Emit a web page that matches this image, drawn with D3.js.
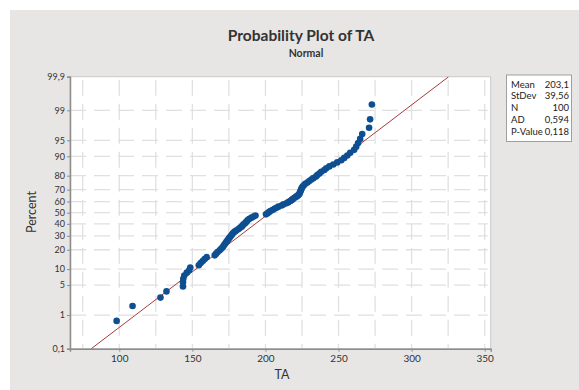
<!DOCTYPE html>
<html>
<head>
<meta charset="utf-8">
<script src="https://cdn.jsdelivr.net/npm/d3@7"></script>
<style>
  body { margin: 0; background: #fff; }
  svg { display: block; font-family: Lato, "Open Sans", sans-serif; }
</style>
</head>
<body>
<svg width="579" height="390"></svg>
<script>
// valeurs TA triées
const taValues = [
  98.2, 109.1, 128.2, 132.3, 143.6, 143.6, 143.8, 144.5, 146.2, 147.9,
  148.6, 154.4, 155.7, 157.1, 158.4, 159.8, 165.3, 166.3, 167.3, 168.7,
  169.7, 170.7, 171.4, 172.1, 172.8, 173.4, 174.1, 174.8, 175.5, 176.2,
  176.9, 177.5, 178.2, 179.2, 180.3, 181.6, 182.6, 183.7, 184.4, 185.0,
  186.1, 186.7, 187.4, 188.1, 189.1, 190.5, 191.9, 193.2, 200.4, 201.4,
  202.4, 203.4, 204.8, 206.2, 207.5, 208.9, 211.0, 212.3, 214.4, 215.7,
  217.1, 218.1, 219.1, 220.2, 221.5, 222.5, 223.2, 223.5, 223.9, 224.2,
  224.6, 224.9, 225.5, 226.3, 227.3, 228.7, 230.0, 231.4, 232.8, 234.6,
  235.5, 236.9, 238.2, 240.3, 241.6, 243.7, 246.4, 249.1, 251.9, 253.9,
  256.0, 258.0, 260.7, 262.1, 263.4, 264.8, 266.2, 270.9, 271.6, 272.8
];
const yTicks = [0.1, 1, 5, 10, 20, 30, 40, 50, 60, 70, 80, 90, 95, 99, 99.9];
const xTicks = [100, 150, 200, 250, 300, 350];
const xGrid = [75, 100, 125, 150, 175, 200, 225, 250, 275, 300, 325, 350];
const statLabels = ["Mean", "StDev", "N", "AD", "P-Value"];
const statValues = ["203,1", "39,56", "100", "0,594", "0,118"];
const fitMean = 203.1;
const fitSd = 39.56;

const svg = d3.select("svg");
const fmt = v => String(v).replace(".", ",");

// quantile de la loi normale (Acklam)
function probit(p) {
  const a = [-39.69683028665376, 220.9460984245205, -275.9285104469687, 138.3577518672690, -30.66479806614716, 2.506628277459239];
  const b = [-54.47609879822406, 161.5858368580409, -155.6989798598866, 66.80131188771972, -13.28068155288572];
  const c = [-0.007784894002430293, -0.3223964580411365, -2.400758277161838, -2.549732539343734, 4.374664141464968, 2.938163982698783];
  const d = [0.007784695709041462, 0.3224671290700398, 2.445134137142996, 3.754408661907416];
  const pl = 0.02425;
  let q, r;
  if (p < pl) {
    q = Math.sqrt(-2 * Math.log(p));
    return (((((c[0]*q+c[1])*q+c[2])*q+c[3])*q+c[4])*q+c[5]) / ((((d[0]*q+d[1])*q+d[2])*q+d[3])*q+1);
  }
  if (p > 1 - pl) {
    q = Math.sqrt(-2 * Math.log(1 - p));
    return -(((((c[0]*q+c[1])*q+c[2])*q+c[3])*q+c[4])*q+c[5]) / ((((d[0]*q+d[1])*q+d[2])*q+d[3])*q+1);
  }
  q = p - 0.5; r = q * q;
  return (((((a[0]*r+a[1])*r+a[2])*r+a[3])*r+a[4])*r+a[5])*q / (((((b[0]*r+b[1])*r+b[2])*r+b[3])*r+b[4])*r+1);
}

// fond
svg.append("rect").attr("x", 10).attr("y", 10).attr("width", 569).attr("height", 380).attr("fill", "#e7e6e4");

const pLeft = 70, pRight = 490.7, pTop = 76.7, pBottom = 348.7;
const zMax = probit(0.999);
const x = d3.scaleLinear().domain([66.3, 354.1]).range([pLeft, pRight]);
const y = d3.scaleLinear().domain([-zMax, zMax]).range([pBottom, pTop]);
const yp = p => y(probit(p / 100));

svg.append("rect").attr("x", pLeft).attr("y", pTop).attr("width", pRight - pLeft).attr("height", pBottom - pTop)
  .attr("fill", "#fff").attr("stroke", "#c9c9c9");

// grille
svg.append("g").selectAll("line").data(xGrid).enter().append("line")
  .attr("x1", d => x(d)).attr("x2", d => x(d)).attr("y1", pTop + 3).attr("y2", pBottom)
  .attr("stroke", "#e0e0e0").attr("stroke-width", 1.3).attr("stroke-dasharray", "16,8");
svg.append("g").selectAll("line").data(yTicks.slice(1, -1)).enter().append("line")
  .attr("x1", pLeft).attr("x2", pRight - 3).attr("y1", d => yp(d)).attr("y2", d => yp(d))
  .attr("stroke", "#e0e0e0").attr("stroke-width", 1.3).attr("stroke-dasharray", "16,8");

// axes
const yAxis = d3.axisLeft(y).tickValues(yTicks.map(p => probit(p / 100)))
  .tickFormat((d, i) => fmt(yTicks[i])).tickSize(3).tickPadding(2);
const gy = svg.append("g").attr("transform", `translate(${pLeft},0)`).call(yAxis);
const xAxis = d3.axisBottom(x).tickValues(xTicks).tickSize(3).tickPadding(3);
const gx = svg.append("g").attr("transform", `translate(0,${pBottom})`).call(xAxis);
[gx, gy].forEach(g => {
  g.select(".domain").attr("stroke", "#8c8c8c").attr("stroke-width", 1.5);
  g.selectAll(".tick line").attr("stroke", "#8c8c8c");
  g.selectAll("text").attr("fill", "#333").style("font-family", "Lato, sans-serif");
});
gy.selectAll("text").style("font-size", "9px");
gx.selectAll("text").style("font-size", "10px");

// droite ajustée
const zLine = [-zMax, zMax];
svg.append("clipPath").attr("id", "clip").append("rect")
  .attr("x", pLeft).attr("y", pTop).attr("width", pRight - pLeft).attr("height", pBottom - pTop);
svg.append("line").attr("clip-path", "url(#clip)")
  .attr("x1", x(fitMean + fitSd * zLine[0])).attr("y1", y(zLine[0]))
  .attr("x2", x(fitMean + fitSd * zLine[1])).attr("y2", y(zLine[1]))
  .attr("stroke", "#a83a3d").attr("stroke-width", 1);

// points (rangs médians)
const n = taValues.length;
svg.append("g").selectAll("circle").data(taValues).enter().append("circle")
  .attr("cx", d => x(d))
  .attr("cy", (d, i) => y(probit((i + 1 - 0.3) / (n + 0.4))))
  .attr("r", 3.3)
  .attr("fill", "#0d4f91");

// titres
svg.append("text").attr("x", 301).attr("y", 41).attr("text-anchor", "middle")
  .style("font-size", "15.5px").style("font-weight", 700).attr("fill", "#333").text("Probability Plot of TA");
svg.append("text").attr("x", 306).attr("y", 57).attr("text-anchor", "middle")
  .style("font-size", "10.5px").style("font-weight", 700).attr("fill", "#333").text("Normal");
svg.append("text").attr("transform", "translate(36,212) rotate(-90)").attr("text-anchor", "middle")
  .style("font-size", "12.5px").attr("fill", "#333").text("Percent");
svg.append("text").attr("x", 282).attr("y", 379).attr("text-anchor", "middle")
  .style("font-size", "12.5px").attr("fill", "#333").text("TA");

// boîte des statistiques
svg.append("rect").attr("x", 506.5).attr("y", 75).attr("width", 65).attr("height", 66.5)
  .attr("fill", "#fff").attr("stroke", "#a0a0a0");
const stats = svg.append("g").style("font-size", "9.5px").attr("fill", "#222");
stats.selectAll("text.lab").data(statLabels).enter().append("text").attr("class", "lab")
  .attr("x", 511).attr("y", (d, i) => 87.5 + i * 11.8).text(d => d);
stats.selectAll("text.val").data(statValues).enter().append("text").attr("class", "val")
  .attr("x", 569).attr("y", (d, i) => 87.5 + i * 11.8).attr("text-anchor", "end").text(d => d);
</script>
</body>
</html>
